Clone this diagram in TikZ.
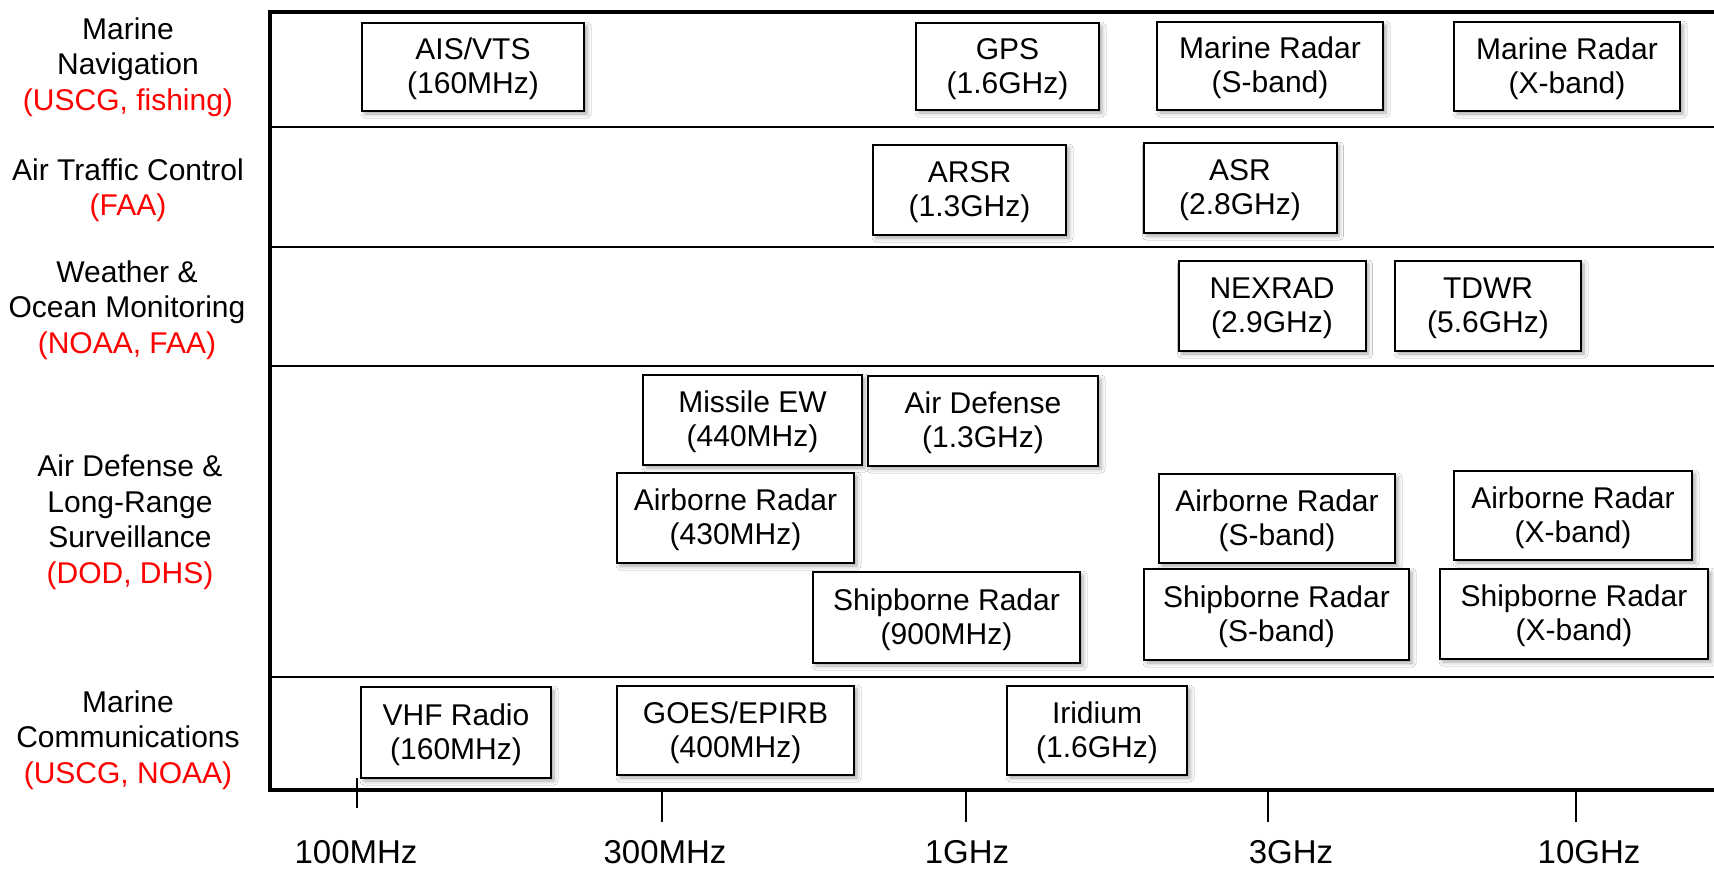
\documentclass[tikz,border=0pt]{standalone}
\usepackage{fontspec}
\setmainfont{Liberation Sans}
\usetikzlibrary{shadows.blur}
\newcommand\mybox[7]{\node[box,minimum width=#4pt,minimum height=#5pt] (#1) at (#2,#3) {\rule{0pt}{26pt}#6\\#7};}
\begin{document}
\begin{tikzpicture}[x=1pt,y=-1pt,
  box/.style={draw=black, line width=2pt, fill=white, align=center, inner sep=0pt,
    font=\fontsize{30}{34}\selectfont,
    blur shadow={shadow xshift=3pt, shadow yshift=-3pt, shadow blur radius=4pt, shadow opacity=35}},
  cat/.style={align=center, font=\fontsize{30}{35.5}\selectfont, inner sep=0pt},
  ticklab/.style={font=\fontsize{33}{38}\selectfont, anchor=base, inner sep=0pt},
  frame/.style={line width=4pt, line cap=rect},
  sep/.style={line width=2pt},
  tickline/.style={line width=2pt}]
\useasboundingbox[fill=white] (0,0) rectangle (1714,868);

% row separators
\foreach \yy in {127,247,366,677}{
  \draw[sep] (270,\yy) -- (1714,\yy);
}
% frame
\draw[frame] (1714,12) -- (270,12) -- (270,790) -- (1714,790);

% ticks
\coordinate (t1a) at (357,778); \coordinate (t1b) at (357,808);
\coordinate (t2a) at (662,790); \coordinate (t2b) at (662,822);
\coordinate (t3a) at (966,790); \coordinate (t3b) at (966,822);
\coordinate (t4a) at (1268,790); \coordinate (t4b) at (1268,822);
\coordinate (t5a) at (1576,790); \coordinate (t5b) at (1576,822);
\draw[tickline] (t1a) -- (t1b);
\draw[tickline] (t2a) -- (t2b);
\draw[tickline] (t3a) -- (t3b);
\draw[tickline] (t4a) -- (t4b);
\draw[tickline] (t5a) -- (t5b);
\node[ticklab] (l1) at (356,863) {100MHz};
\node[ticklab] (l2) at (665,863) {300MHz};
\node[ticklab] (l3) at (967,863) {1GHz};
\node[ticklab] (l4) at (1291,863) {3GHz};
\node[ticklab] (l5) at (1589,863) {10GHz};

% category labels
\node[cat] (c1) at (128,67) {Marine\\Navigation\\\textcolor{red}{(USCG, fishing)}};
\node[cat] (c2) at (128,190) {Air Traffic Control\\\textcolor{red}{(FAA)}};
\node[cat] (c3) at (127,310) {Weather \&\\Ocean Monitoring\\\textcolor{red}{(NOAA, FAA)}};
\node[cat] (c4) at (130,522) {Air Defense \&\\Long-Range\\Surveillance\\\textcolor{red}{(DOD, DHS)}};
\node[cat] (c5) at (128,740) {Marine\\Communications\\\textcolor{red}{(USCG, NOAA)}};

% row 1
\mybox{ais}{473}{67}{222}{88}{AIS/VTS}{(160MHz)}
\mybox{gps}{1007.5}{66.5}{183}{87}{GPS}{(1.6GHz)}
\mybox{mrs}{1270}{66}{226}{88}{Marine Radar}{(S-band)}
\mybox{mrx}{1567}{66.5}{226}{89}{Marine Radar}{(X-band)}
% row 2
\mybox{arsr}{969.5}{190}{193}{90}{ARSR}{(1.3GHz)}
\mybox{asr}{1240}{188}{193}{90}{ASR}{(2.8GHz)}
% row 3
\mybox{nexrad}{1272}{306}{187}{90}{NEXRAD}{(2.9GHz)}
\mybox{tdwr}{1488}{306}{186}{90}{TDWR}{(5.6GHz)}
% row 4
\mybox{mew}{752.5}{420}{219}{90}{Missile EW}{(440MHz)}
\mybox{adef}{983}{421}{230}{90}{Air Defense}{(1.3GHz)}
\mybox{abr}{735.5}{518}{237}{90}{Airborne Radar}{(430MHz)}
\mybox{abs}{1277}{518.5}{236}{89}{Airborne Radar}{(S-band)}
\mybox{abx}{1573}{515.5}{238}{89}{Airborne Radar}{(X-band)}
\mybox{sbr}{946.5}{617.5}{267}{91}{Shipborne Radar}{(900MHz)}
\mybox{sbs}{1276.5}{614.5}{265}{91}{Shipborne Radar}{(S-band)}
\mybox{sbx}{1574}{614}{268}{90}{Shipborne Radar}{(X-band)}
% row 5
\mybox{vhf}{456}{732.5}{190}{91}{VHF Radio}{(160MHz)}
\mybox{goes}{735.5}{730.5}{237}{89}{GOES/EPIRB}{(400MHz)}
\mybox{iri}{1097}{730.5}{180}{89}{Iridium}{(1.6GHz)}
\end{tikzpicture}
\end{document}
